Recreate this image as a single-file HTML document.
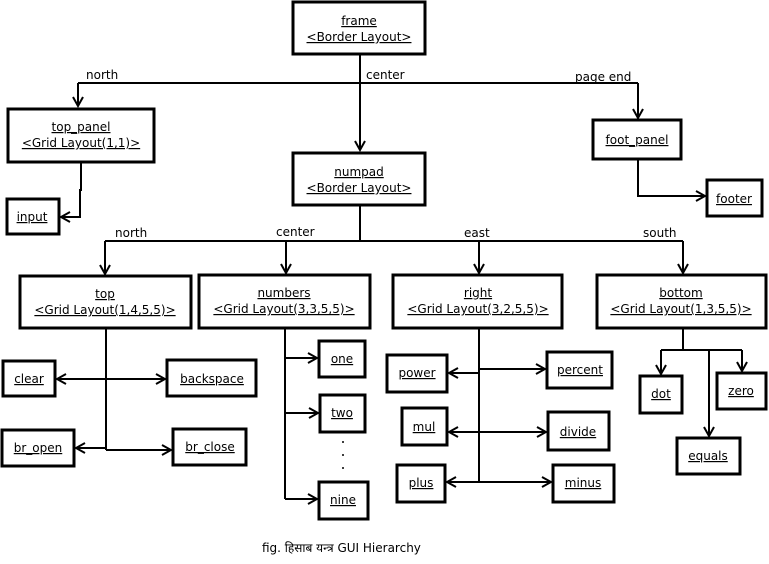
<!DOCTYPE html>
<html><head><meta charset="utf-8"><style>
html,body{margin:0;padding:0;background:#fff;}
svg text{font-family:"DejaVu Sans","Noto Sans CJK SC",sans-serif;font-size:12px;fill:#000;}
.u{text-decoration:underline;}
</style></head><body>
<svg width="769" height="559" viewBox="0 0 769 559" xmlns="http://www.w3.org/2000/svg">
<defs>
<marker id="a" markerWidth="12" markerHeight="12" refX="10" refY="6" orient="auto" markerUnits="userSpaceOnUse">
<path d="M1,1 L10,6 L1,11" fill="none" stroke="#000" stroke-width="2"/>
</marker>
</defs>
<g fill="#fff" stroke="#000" stroke-width="3">
<rect x="293" y="2" width="132" height="52"/>
<rect x="8" y="109" width="146" height="53"/>
<rect x="293" y="153" width="132" height="52"/>
<rect x="593" y="120" width="88" height="39"/>
<rect x="707" y="180" width="55" height="36"/>
<rect x="7" y="199" width="52" height="35"/>
<rect x="20" y="276" width="171" height="52"/>
<rect x="199" y="275" width="171" height="53"/>
<rect x="393" y="275" width="169" height="53"/>
<rect x="597" y="275" width="169" height="53"/>
<rect x="3" y="361" width="52" height="35"/>
<rect x="167" y="360" width="89" height="36"/>
<rect x="2" y="430" width="72" height="36"/>
<rect x="173" y="429" width="73" height="36"/>
<rect x="319" y="341" width="46" height="36"/>
<rect x="320" y="395" width="45" height="37"/>
<rect x="319" y="482" width="49" height="37"/>
<rect x="387" y="355" width="60" height="37"/>
<rect x="547" y="352" width="65" height="36"/>
<rect x="402" y="408" width="45" height="37"/>
<rect x="548" y="412" width="61" height="38"/>
<rect x="397" y="465" width="48" height="37"/>
<rect x="553" y="465" width="61" height="37"/>
<rect x="640" y="376" width="42" height="37"/>
<rect x="717" y="373" width="49" height="36"/>
<rect x="677" y="438" width="63" height="36"/>
</g>
<g fill="none" stroke="#000" stroke-width="2">
<path d="M360,54 V83 M78,83 H638"/>
<path d="M78,83 V106" marker-end="url(#a)"/>
<path d="M360,83 V150" marker-end="url(#a)"/>
<path d="M638,83 V118" marker-end="url(#a)"/>
<path d="M638,159 V196 H705" marker-end="url(#a)"/>
<path d="M81,162 V190 H80 V217 H61" marker-end="url(#a)"/>
<path d="M360,205 V241 M105,241 H683"/>
<path d="M105,241 V274" marker-end="url(#a)"/>
<path d="M286,241 V273" marker-end="url(#a)"/>
<path d="M479,241 V273" marker-end="url(#a)"/>
<path d="M683,241 V273" marker-end="url(#a)"/>
<path d="M106,328 V450"/>
<path d="M106,379 H57" marker-end="url(#a)"/>
<path d="M106,379 H165" marker-end="url(#a)"/>
<path d="M106,448 H76" marker-end="url(#a)"/>
<path d="M106,450 H171" marker-end="url(#a)"/>
<path d="M285,328 V499"/>
<path d="M285,358 H317" marker-end="url(#a)"/>
<path d="M285,413 H318" marker-end="url(#a)"/>
<path d="M285,499 H317" marker-end="url(#a)"/>
<path d="M479,328 V482"/>
<path d="M479,373 H449" marker-end="url(#a)"/>
<path d="M479,369 H545" marker-end="url(#a)"/>
<path d="M479,432 H449" marker-end="url(#a)"/>
<path d="M479,432 H546" marker-end="url(#a)"/>
<path d="M479,482 H447" marker-end="url(#a)"/>
<path d="M479,482 H551" marker-end="url(#a)"/>
<path d="M683,328 V350 M661,350 H742"/>
<path d="M661,350 V374" marker-end="url(#a)"/>
<path d="M742,350 V371" marker-end="url(#a)"/>
<path d="M709,350 V436" marker-end="url(#a)"/>
</g>
<g fill="#000"><circle cx="343" cy="442" r="1"/><circle cx="343" cy="455" r="1"/><circle cx="343" cy="468" r="1"/></g>
<g text-anchor="middle">
<text class="u" x="359" y="25">frame</text><text class="u" x="359" y="41">&lt;Border Layout&gt;</text>
<text class="u" x="81" y="131">top_panel</text><text class="u" x="81" y="147">&lt;Grid Layout(1,1)&gt;</text>
<text class="u" x="359" y="176">numpad</text><text class="u" x="359" y="192">&lt;Border Layout&gt;</text>
<text class="u" x="637" y="144">foot_panel</text>
<text class="u" x="734" y="203">footer</text>
<text class="u" x="32" y="221">input</text>
<text class="u" x="105" y="298">top</text><text class="u" x="105" y="314">&lt;Grid Layout(1,4,5,5)&gt;</text>
<text class="u" x="284" y="297">numbers</text><text class="u" x="284" y="313">&lt;Grid Layout(3,3,5,5)&gt;</text>
<text class="u" x="478" y="297">right</text><text class="u" x="478" y="313">&lt;Grid Layout(3,2,5,5)&gt;</text>
<text class="u" x="681" y="297">bottom</text><text class="u" x="681" y="313">&lt;Grid Layout(1,3,5,5)&gt;</text>
<text class="u" x="29" y="383">clear</text>
<text class="u" x="212" y="383">backspace</text>
<text class="u" x="38" y="452">br_open</text>
<text class="u" x="210" y="451">br_close</text>
<text class="u" x="342" y="363">one</text>
<text class="u" x="342" y="417">two</text>
<text class="u" x="343" y="504">nine</text>
<text class="u" x="417" y="377">power</text>
<text class="u" x="580" y="374">percent</text>
<text class="u" x="424" y="431">mul</text>
<text class="u" x="578" y="436">divide</text>
<text class="u" x="421" y="487">plus</text>
<text class="u" x="583" y="487">minus</text>
<text class="u" x="661" y="398">dot</text>
<text class="u" x="741" y="395">zero</text>
<text class="u" x="708" y="460">equals</text>
</g>
<text x="86" y="79">north</text>
<text x="366" y="79">center</text>
<text x="575" y="81">page end</text>
<text x="115" y="237">north</text>
<text x="276" y="236">center</text>
<text x="464" y="237">east</text>
<text x="643" y="237">south</text>
<text x="262" y="552" style="font-size:12px">fig. हिसाब यन्त्र GUI Hierarchy</text>
</svg>
</body></html>
